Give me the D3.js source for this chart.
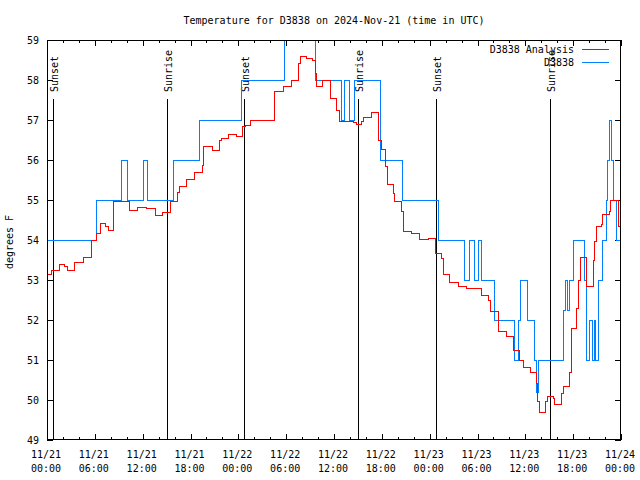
<!DOCTYPE html>
<html><head><meta charset="utf-8">
<script src="https://cdn.jsdelivr.net/npm/d3@7"></script>
<style>body{margin:0;background:#fff}svg{display:block}text{font-family:"DejaVu Sans Mono",monospace;font-size:10px;fill:#000}</style>
</head><body><svg id="c" width="640" height="480"></svg>
<script>
// hours since 2024-11-21 00:00 UTC
const analysisHours = [0,0.59,1.51,2.17,2.6,3.51,4.55,5.61,6.15,6.65,7.4,7.69,8.4,10.41,11.41,12.42,13.55,14.55,15.43,16.43,16.68,17.52,18.56,19.53,19.69,20.7,21.58,21.91,22.74,23.8,24.5,24.84,25.55,26.72,28.51,29.64,30.7,31.52,31.74,32.58,33.33,33.62,33.83,34.58,35.5,35.62,36.34,36.66,38.42,38.85,39.39,39.68,40.73,41.56,41.98,42.49,42.69,43.44,43.65,44.41,44.69,45.75,46.7,47.83,48.67,49.51,49.71,50.55,51.59,52.65,53.48,54.53,55.36,55.66,56.61,57.66,58.49,59.33,59.75,60.59,61.43,61.5,61.75,62.59,62.81,63.51,63.72,64.56,64.76,65.52,65.82,66.44,66.65,66.95,67.7,68.53,68.65,68.95,69.58,69.7,70.5,70.71,71.66,71.88,72];
const analysisTemps = [53.15,53.23,53.4,53.35,53.25,53.43,53.57,54.0,54.17,54.42,54.35,54.25,54.97,54.75,54.82,54.78,54.62,54.69,54.96,55.18,55.33,55.52,55.68,55.87,56.33,56.23,56.5,56.54,56.64,56.6,56.83,56.87,57.0,56.98,57.71,57.85,58.0,58.42,58.6,58.54,58.5,58.17,57.85,58.0,57.92,57.54,57.25,56.96,56.94,56.9,56.96,57.07,57.18,56.5,56.27,55.83,55.38,55.17,54.96,54.71,54.21,54.17,54.02,54.04,53.67,53.54,53.15,52.93,52.85,52.8,52.78,52.62,52.5,52.21,51.72,51.6,51.25,51.0,50.82,50.68,50.42,49.96,49.69,49.96,50.1,50.05,49.9,50.17,50.33,50.68,51.79,52.29,53.0,53.57,52.83,53.5,53.96,54.33,54.4,54.65,54.71,55.0,54.33,54.1,54.1];
const obsHours = [0,6.2,9.35,10.1,12.08,12.58,15.84,19.13,24.4,29.73,33.68,36.88,37.32,37.94,38.63,41.83,44.59,49.05,52.37,52.94,53.63,54.07,54.44,56.13,58.64,59.2,59.45,60.33,61.15,61.34,61.59,64.79,65.1,65.35,65.6,65.98,67.36,67.67,68.11,68.42,68.67,68.86,69.24,69.74,70.12,70.31,70.56,70.81,71.06,71.43,72];
const obsTemps = [54,55,56,55,56,55,56,57,58,60,58,57,58,57,58,56,55,54,53,54,53,54,53,52,51,52,53,52,51,50.2,51,52.25,53,52.25,53,54,53,51,52,51,52,51,53,54,55,56,57,56,55,54,54];
const sunHours = [0.79,15.02,24.76,39.06,48.85,63.15];
const sunLabels = ["Sunset","Sunrise","Sunset","Sunrise","Sunset","Sunrise"];
const yTicks = [49,50,51,52,53,54,55,56,57,58,59];
const seriesNames = ["D3838 Analysis","D3838"];
const seriesColors = ["#ff0000","#0080ff"];
const titleText = "Temperature for D3838 on 2024-Nov-21 (time in UTC)";
const yLabel = "degrees F";

const t0 = Date.UTC(2024,10,21);
const H = 3600e3;
const toDate = h => new Date(t0 + h*H);
const L=47,R=621,T=40,B=440;
const svg = d3.select("#c");
const x = d3.scaleUtc().domain([toDate(0),toDate(72)]).range([L,R]);
const y = d3.scaleLinear().domain([49,59]).range([B,T]);

svg.append("defs").append("clipPath").attr("id","clip").append("rect")
  .attr("x",L).attr("y",T).attr("width",R-L).attr("height",B-T);

function axisClean(g){g.select(".domain").remove();g.selectAll("line").attr("stroke","#000").attr("shape-rendering","crispEdges");}
svg.append("g").attr("transform",`translate(0,${B})`).call(d3.axisBottom(x).ticks(d3.utcHour.every(2)).tickSize(-3).tickFormat(()=>"")).call(axisClean);
svg.append("g").attr("transform",`translate(0,${B})`).call(d3.axisBottom(x).ticks(d3.utcHour.every(6)).tickSize(-6).tickFormat(()=>"")).call(axisClean);
svg.append("g").attr("transform",`translate(0,${T})`).call(d3.axisTop(x).ticks(d3.utcHour.every(2)).tickSize(-3).tickFormat(()=>"")).call(axisClean);
svg.append("g").attr("transform",`translate(0,${T})`).call(d3.axisTop(x).ticks(d3.utcHour.every(6)).tickSize(-6).tickFormat(()=>"")).call(axisClean);
const gl = svg.append("g").attr("transform",`translate(${L},0)`).call(d3.axisLeft(y).tickValues(yTicks).tickSize(-6).tickPadding(8).tickFormat(d3.format("d"))).call(axisClean);
gl.selectAll("text").attr("font-family",null).attr("font-size",null);
svg.append("g").attr("transform",`translate(${R},0)`).call(d3.axisRight(y).tickValues(yTicks).tickSize(-6).tickFormat(()=>"")).call(axisClean);

// x labels two lines
const fmtD = d3.utcFormat("%m/%d"), fmtT = d3.utcFormat("%H:%M");
const xl = svg.append("g");
x.ticks(d3.utcHour.every(6)).forEach(d=>{
  const t = xl.append("text").attr("text-anchor","middle");
  t.append("tspan").attr("x",x(d)-1).attr("y",458).text(fmtD(d));
  t.append("tspan").attr("x",x(d)-1).attr("y",472).text(fmtT(d));
});

// sun lines
sunHours.forEach((h,i)=>{
  const xx = Math.round(x(toDate(h)))+0.5;
  svg.append("line").attr("x1",xx).attr("x2",xx).attr("y1",99).attr("y2",B).attr("stroke","#000").attr("shape-rendering","crispEdges");
  svg.append("text").attr("transform",`translate(${xx+4},92) rotate(-90)`).attr("text-anchor","start").text(sunLabels[i]);
});

// series
const line = d3.line().x(d=>x(toDate(d[0]))).y(d=>y(d[1])).curve(d3.curveStepAfter);
const dataA = analysisHours.map((h,i)=>[h,analysisTemps[i]]);
const dataO = obsHours.map((h,i)=>[h,obsTemps[i]]);
const pg = svg.append("g").attr("clip-path","url(#clip)");
pg.append("path").datum(dataO).attr("d",line).attr("fill","none").attr("stroke",seriesColors[1]).attr("stroke-width",1).attr("shape-rendering","crispEdges");
pg.append("path").datum(dataA).attr("d",line).attr("fill","none").attr("stroke",seriesColors[0]).attr("stroke-width",1).attr("shape-rendering","crispEdges");

// frame
svg.append("rect").attr("x",L+0.5).attr("y",T+0.5).attr("width",R-L-1).attr("height",B-T-1).attr("fill","none").attr("stroke","#000").attr("shape-rendering","crispEdges");

// legend
seriesNames.forEach((n,i)=>{
  const yy = 49 + i*13;
  svg.append("text").attr("x",574).attr("y",yy+4).attr("text-anchor","end").text(n);
  svg.append("line").attr("x1",582).attr("x2",609).attr("y1",yy+0.5).attr("y2",yy+0.5).attr("stroke",seriesColors[i]).attr("stroke-width",1).attr("shape-rendering","crispEdges");
});

// title and y label
svg.append("text").attr("x",334).attr("y",24).attr("text-anchor","middle").text(titleText);
svg.append("text").attr("transform","translate(13,242) rotate(-90)").attr("text-anchor","middle").text(yLabel);
</script></body></html>
